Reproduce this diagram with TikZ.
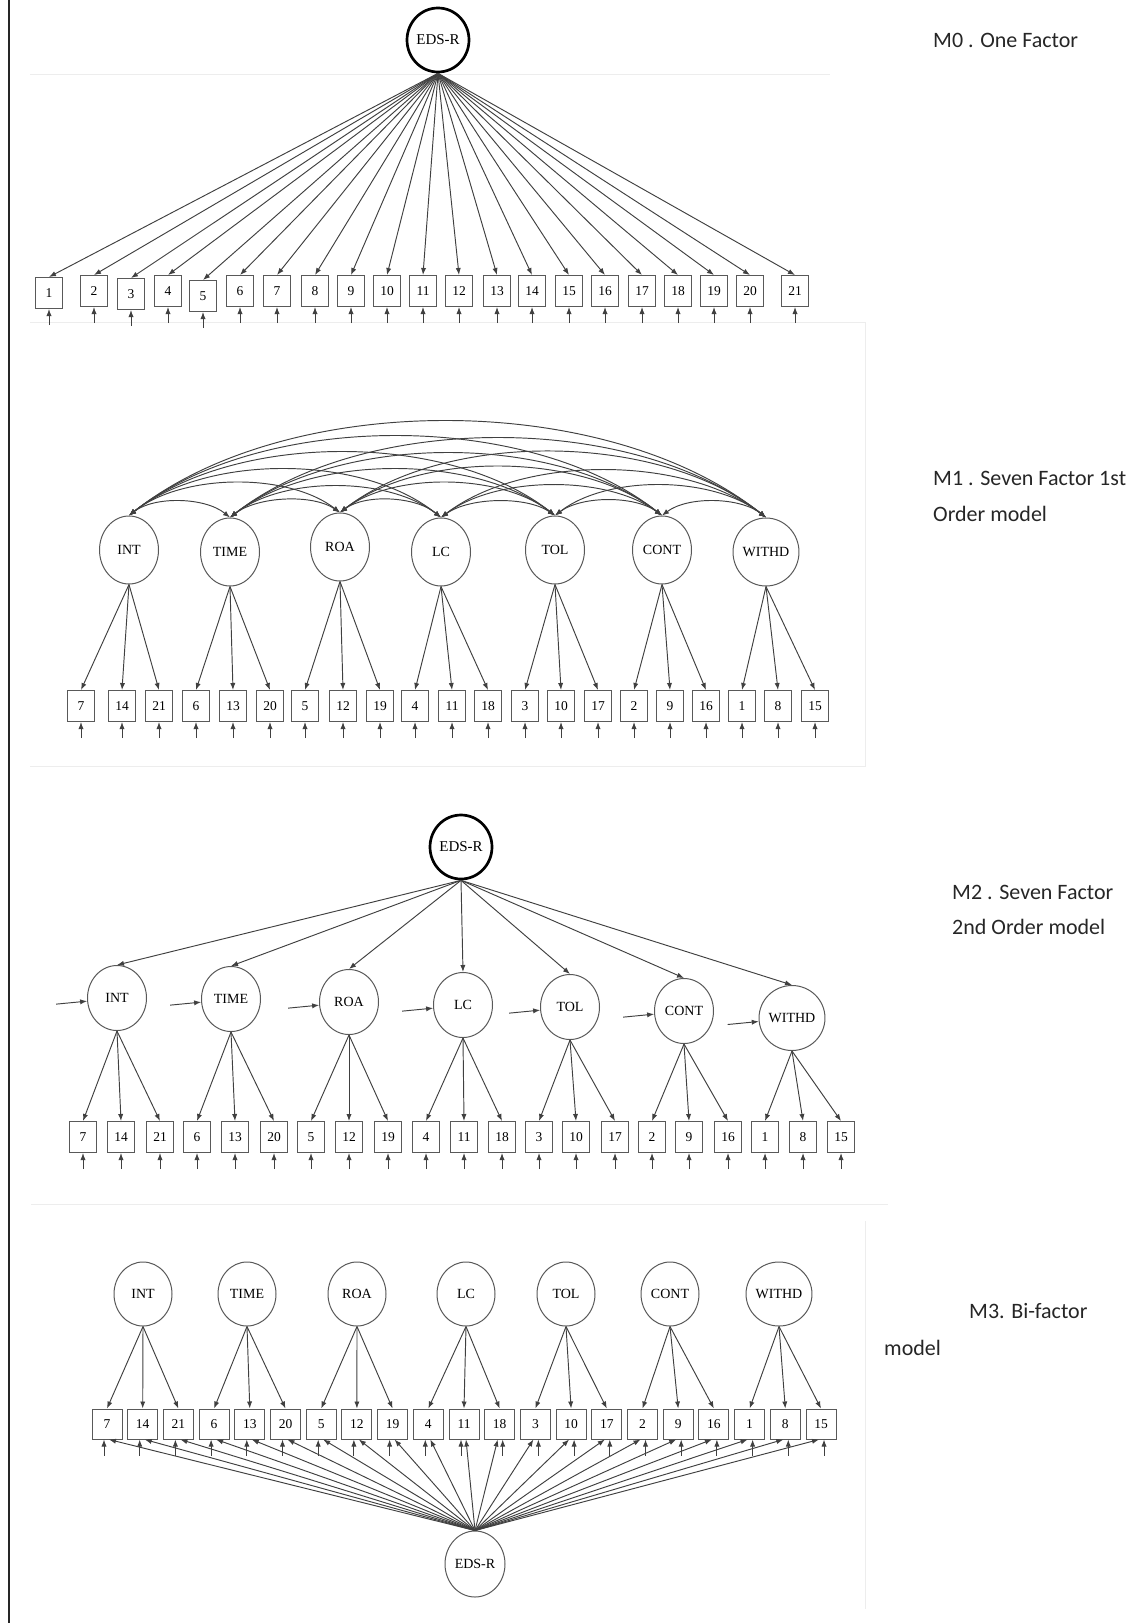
\documentclass[tikz,border=0pt]{standalone}
\usepackage{fontspec}
\setmainfont{Liberation Serif}
\newfontfamily\lblfont{Carlito}
\usetikzlibrary{arrows.meta,calc,shapes.geometric}
\begin{document}
\begin{tikzpicture}[x=1pt,y=-1pt,
  ln/.style={draw=black!75, line width=0.95pt},
  arr/.style={ln,-{Latex[length=7pt,width=5.2pt]}},
  darr/.style={ln,{Latex[length=7pt,width=5.2pt]}-{Latex[length=7pt,width=5.2pt]}},
  ind/.style={draw=black!65, line width=1pt, rectangle, minimum width=27pt, minimum height=31pt, inner sep=0pt, font=\fontsize{13.5}{13.5}\selectfont},
  indb/.style={ind, minimum width=30pt, minimum height=30pt},
  fac/.style={draw=black!65, line width=1pt, ellipse, minimum width=59pt, minimum height=65pt, inner sep=0pt, font=\fontsize{14}{14}\selectfont},
  gen/.style={fac, line width=2.7pt, draw=black, minimum width=62pt, minimum height=64pt, font=\fontsize{15}{15}\selectfont},
  lbl/.style={anchor=west, inner sep=0pt, font=\lblfont\fontsize{22}{22}\selectfont, text=black!85},
  frame/.style={draw=black!7, line width=1pt}]
\useasboundingbox (0,0) rectangle (1129,1623);
% faint panel edges
\draw[frame] (30,74) -- (830,74);
\draw[frame] (30,322) -- (865,322) -- (865,766) -- (30,766);
\draw[frame] (31,1204) -- (888,1204);
\draw[frame] (865,1221) -- (865,1609);
% left rule
\draw[line width=1.6pt, black!85] (9,0) -- (9,1623);

% ================= M0 =================
\node[gen] (e0) at (438,40) {EDS-R};
\foreach \n/\x/\y in {1/49/293,2/94/291,3/131/294,4/168/291,5/203/296,6/240/291,7/277/291,8/315/291,9/351/291,10/387/291,11/423/291,12/459/291,13/497/291,14/532/291,15/569/291,16/605/291,17/642/291,18/678/291,19/714/291,20/750/291,21/795/291}{
  \node[ind] (m0b\n) at (\x,\y) {\n};
  \draw[arr] (e0.south) -- (m0b\n.north);
  \draw[arr] ($(m0b\n.south)+(0,16)$) -- (m0b\n.south);
}

% ================= M1 =================
\foreach \f/\x/\y [count=\k] in {INT/129/550,TIME/230/552,ROA/340/547,LC/441/552,TOL/555/550,CONT/662/550,WITHD/766/552}{
  \node[fac, minimum height=68pt] (m1f\k) at (\x,\y) {\f};
}
\foreach \n/\x [count=\i] in {7/81,14/122,21/159,6/196,13/233,20/270,5/305,12/343,19/380,4/415,11/452,18/488,3/525,10/561,17/598,2/634,9/670,16/706,1/742,8/778,15/815}{
  \node[ind] (m1b\i) at (\x,706) {\n};
  \draw[arr] ($(m1b\i.south)+(0,16)$) -- (m1b\i.south);
}
\foreach \k in {1,...,7}{
  \foreach \j in {0,1,2}{
    \pgfmathtruncatemacro\bi{3*\k-2+\j}
    \draw[arr] (m1f\k.south) -- (m1b\bi.north);
  }
}
\foreach \i in {1,...,6}{
  \pgfmathtruncatemacro\s{\i+1}
  \foreach \j in {\s,...,7}{
    \pgfmathsetmacro\rise{(15+16*(\j-\i-1))/0.75}
    \draw[darr] (m1f\i.north) .. controls ($(m1f\i.north)!0.25!(m1f\j.north)+(0,-\rise)$) and ($(m1f\i.north)!0.75!(m1f\j.north)+(0,-\rise)$) .. (m1f\j.north);
  }
}

% ================= M2 =================
\node[gen] (e2) at (461,847) {EDS-R};
\foreach \f/\x/\y [count=\k] in {INT/117/998,TIME/231/999,ROA/349/1002,LC/463/1005,TOL/570/1007,CONT/684/1011,WITHD/792/1018}{
  \node[fac] (m2f\k) at (\x,\y) {\f};
  \draw[arr] (e2.south) -- (m2f\k.north);
  \draw[arr] ($(m2f\k.186)+(-31,3)$) -- (m2f\k.186);
}
\foreach \n/\x [count=\i] in {7/83,14/121,21/160,6/197,13/235,20/274,5/311,12/349,19/388,4/426,11/464,18/502,3/539,10/576,17/615,2/652,9/689,16/728,1/765,8/803,15/841}{
  \node[ind] (m2b\i) at (\x,1137) {\n};
  \draw[arr] ($(m2b\i.south)+(0,16)$) -- (m2b\i.south);
}
\foreach \k in {1,...,7}{
  \foreach \j in {0,1,2}{
    \pgfmathtruncatemacro\bi{3*\k-2+\j}
    \draw[arr] (m2f\k.south) -- (m2b\bi.north);
  }
}

% ================= M3 =================
\foreach \f/\x [count=\k] in {INT/143,TIME/247,ROA/357,LC/466,TOL/566,CONT/670,WITHD/779}{
  \node[fac, minimum width=58pt, minimum height=64pt] (m3f\k) at (\x,1294) {\f};
}
\node[fac, minimum width=60pt, minimum height=66pt] (e3) at (475,1564) {EDS-R};
\foreach \n [count=\i] in {7,14,21,6,13,20,5,12,19,4,11,18,3,10,17,2,9,16,1,8,15}{
  \pgfmathsetmacro\bx{107+35.7*(\i-1)}
  \node[indb] (m3b\i) at (\bx,1424) {\n};
  \ifnum\i<12
    \draw[arr] ($(m3b\i.south)+(-3,16)$) -- ($(m3b\i.south)+(-3,0)$);
    \draw[arr] (e3.north) -- ($(m3b\i.south)+(2,0)$);
  \else
    \draw[arr] ($(m3b\i.south)+(3,16)$) -- ($(m3b\i.south)+(3,0)$);
    \draw[arr] (e3.north) -- ($(m3b\i.south)+(-2,0)$);
  \fi
}
\foreach \k in {1,...,7}{
  \foreach \j in {0,1,2}{
    \pgfmathtruncatemacro\bi{3*\k-2+\j}
    \draw[arr] (m3f\k.south) -- (m3b\bi.north);
  }
}

% ================= labels =================
\node[lbl] (lab0) at (933,40) {M0 . One Factor};
\node[lbl] (lab1a) at (933,478) {M1 . Seven Factor 1st};
\node[lbl] (lab1b) at (933,514) {Order model};
\node[lbl] (lab2a) at (952,892) {M2 . Seven Factor};
\node[lbl] (lab2b) at (952,927) {2nd Order model};
\node[lbl] (lab3a) at (969,1311) {M3. Bi-factor};
\node[lbl] (lab3b) at (884,1348) {model};
\end{tikzpicture}
\end{document}
